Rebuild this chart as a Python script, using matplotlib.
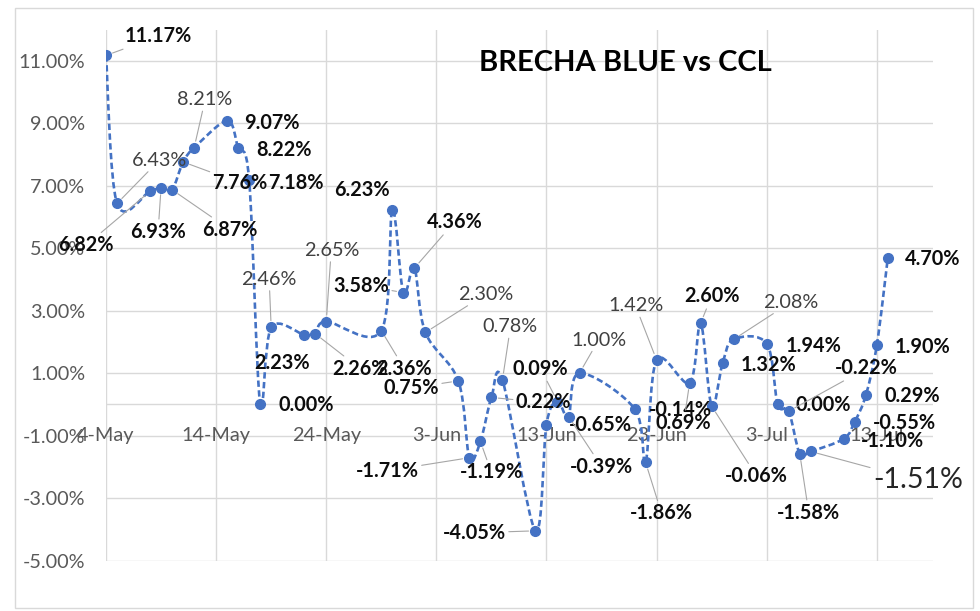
import numpy as np
import pandas as pd
import matplotlib
matplotlib.use("Agg")
import matplotlib.pyplot as plt
import matplotlib.dates as mdates
from matplotlib.path import Path
from matplotlib.patches import PathPatch, Rectangle

# ---------------- data ----------------
dates = ["2023-05-04", "2023-05-05", "2023-05-08", "2023-05-09", "2023-05-10", "2023-05-11",
         "2023-05-12", "2023-05-15", "2023-05-16", "2023-05-17", "2023-05-18", "2023-05-19",
         "2023-05-22", "2023-05-23", "2023-05-24", "2023-05-29", "2023-05-30", "2023-05-31",
         "2023-06-01", "2023-06-02", "2023-06-05", "2023-06-06", "2023-06-07", "2023-06-08",
         "2023-06-09", "2023-06-12", "2023-06-13", "2023-06-14", "2023-06-15", "2023-06-16",
         "2023-06-21", "2023-06-22", "2023-06-23", "2023-06-26", "2023-06-27", "2023-06-28",
         "2023-06-29", "2023-06-30", "2023-07-03", "2023-07-04", "2023-07-05", "2023-07-06",
         "2023-07-07", "2023-07-10", "2023-07-11", "2023-07-12", "2023-07-13", "2023-07-14"]
values = [11.17, 6.43, 6.82, 6.93, 6.87, 7.76, 8.21, 9.07, 8.22, 7.18,
          0.00, 2.46, 2.23, 2.26, 2.65, 2.36, 6.23, 3.58, 4.36, 2.30,
          0.75, -1.71, -1.19, 0.22, 0.78, -4.05, -0.65, 0.09, -0.39, 1.00,
          -0.14, -1.86, 1.42, 0.69, 2.60, -0.06, 1.32, 2.08, 1.94, 0.00,
          -0.22, -1.58, -1.51, -1.10, -0.55, 0.29, 1.90, 4.70]
tick_dates = ["2023-05-04", "2023-05-14", "2023-05-24", "2023-06-03",
              "2023-06-13", "2023-06-23", "2023-07-03", "2023-07-13"]
tick_labels = ["4-May", "14-May", "24-May", "3-Jun", "13-Jun", "23-Jun", "3-Jul", "13-Jul"]
y_ticks = [-5, -3, -1, 1, 3, 5, 7, 9, 11]
title = "BRECHA BLUE vs CCL"

# ---------------- label styling (pixel offsets from each point) ----------------
label_dx = [52, 42, -64, -3, 58, 57, 11, 45, 46, 47,
            46, -2, -22, 45, 5, 23, -30, -42, 40, 60,
            -47, -82, 11, 52, 8, -61, 54, -17, 33, 19,
            46, 16, -21, -6, 11, 45, 46, 57, 47, 46,
            78, 9, 107, 49, 50, 46, 46, 45]
label_dy = [19, 43, -54, -44, -40, -21, 48, -2, -2, -3,
            -1, 48, -28, -35, 71, -38, 20, 7, 46, 38,
            -7, -13, -31, -5, 53, -2, 0, 33, -50, 33,
            -1, -51, 54, -40, 27, -70, -2, 37, -2, -1,
            43, -59, -29, -2, -1, -1, -2, -1]
label_bold = [1, 0, 1, 1, 1, 1, 0, 1, 1, 1,
              1, 0, 1, 1, 0, 1, 1, 1, 1, 0,
              1, 1, 1, 1, 0, 1, 1, 1, 1, 0,
              1, 1, 0, 1, 1, 1, 1, 0, 1, 1,
              1, 1, 0, 1, 1, 1, 1, 1]
label_leader = [1, 1, 1, 1, 1, 1, 1, 0, 0, 0,
                0, 1, 0, 1, 1, 1, 0, 1, 1, 1,
                1, 1, 1, 1, 1, 1, 0, 1, 1, 1,
                0, 1, 1, 1, 1, 1, 0, 1, 0, 0,
                1, 1, 1, 0, 0, 0, 0, 0]
label_size = [14.3] * 48
label_size[42] = 20.5

# ---------------- figure ----------------
plt.rcParams["font.family"] = ["Lato", "DejaVu Sans"]
W, H = 980, 611
fig = plt.figure(figsize=(W / 100, H / 100), dpi=100)
fig.patch.set_facecolor("white")
ax = fig.add_axes([106 / W, 1 - 560.5 / H, 827 / W, (560.5 - 29.5) / H])

x = mdates.date2num(pd.to_datetime(dates))
y = np.array(values)
blue = "#4472C4"
grid_c = "#d9d9d9"

# smoothed (Excel-like) curve via cubic Bezier segments
verts = [(x[0], y[0])]
codes = [Path.MOVETO]
n = len(x)
for i in range(n - 1):
    p0 = np.array([x[max(i - 1, 0)], y[max(i - 1, 0)]])
    p1 = np.array([x[i], y[i]])
    p2 = np.array([x[i + 1], y[i + 1]])
    p3 = np.array([x[min(i + 2, n - 1)], y[min(i + 2, n - 1)]])
    c1 = p1 + (p2 - p0) / 6.0
    c2 = p2 - (p3 - p1) / 6.0
    verts += [tuple(c1), tuple(c2), tuple(p2)]
    codes += [Path.CURVE4] * 3
patch = PathPatch(Path(verts, codes), fill=False, edgecolor=blue, lw=1.9,
                  linestyle=(0, (2.4, 1.3)), zorder=3, capstyle="butt")
ax.add_patch(patch)
ax.plot(x, y, "o", color=blue, markersize=7, zorder=4)

# axes ranges / grid
x0 = mdates.date2num(pd.Timestamp("2023-05-04"))
ax.set_xlim(x0, x0 + 75.1)
ax.set_ylim(-5, 12)
tx = mdates.date2num(pd.to_datetime(tick_dates))
for t in tx:
    ax.axvline(t, color=grid_c, lw=1.0, zorder=0)
for t in y_ticks:
    ax.axhline(t, color=grid_c, lw=1.0, zorder=0)
ax.axhline(0, color=grid_c, lw=1.0, zorder=1)
for s in ax.spines.values():
    s.set_visible(False)
ax.spines["bottom"].set_position(("data", 0))
ax.set_xticks(tx)
ax.set_xticklabels(tick_labels)
ax.set_yticks(y_ticks)
ax.set_yticklabels([f"{v:.2f}%" for v in y_ticks])
ax.tick_params(axis="x", length=0, pad=16, labelsize=14.3, labelcolor="#595959")
ax.tick_params(axis="y", length=0, pad=15, labelsize=14.3, labelcolor="#595959")
ax.set_facecolor("none")

# data labels
for i in range(n):
    txt = f"{values[i]:.2f}%"
    kw = dict(xy=(x[i], y[i]), xytext=(label_dx[i], label_dy[i]),
              textcoords="offset pixels", ha="center", va="center",
              fontsize=label_size[i],
              fontweight="bold" if label_bold[i] else "normal",
              color="#0d0d0d" if label_bold[i] else ("#262626" if i == 42 else "#404040"),
              zorder=5)
    if label_leader[i]:
        kw["arrowprops"] = dict(arrowstyle="-", color="#a6a6a6", lw=0.8,
                                shrinkA=0, shrinkB=5)
    ax.annotate(txt, **kw)

fig.text(625 / W, 1 - 63 / H, title, ha="center", va="center",
         fontsize=21, fontweight="bold", color="#000000")

fig.patches.append(Rectangle((15 / W, 1 - 608 / H), 958 / W, 600 / H,
                             transform=fig.transFigure, fill=False,
                             edgecolor=grid_c, lw=1.0))

fig.savefig("out.png", dpi=100, facecolor="white")
